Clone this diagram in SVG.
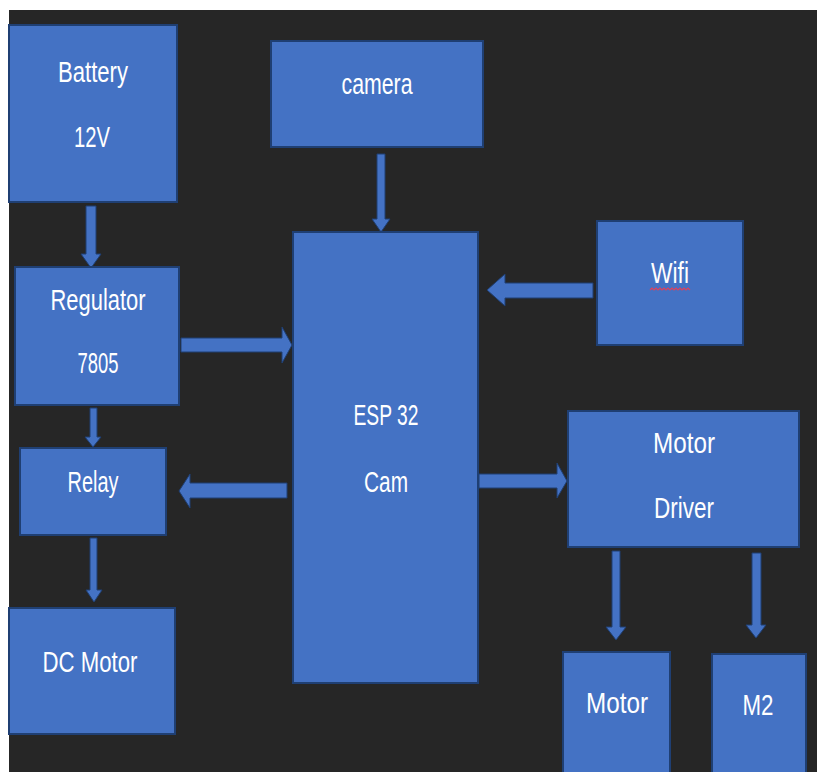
<svg xmlns="http://www.w3.org/2000/svg" width="817" height="772" viewBox="0 0 817 772">
<style>
.box{fill:#4472c4;stroke:#1f3f73;stroke-width:2}
.arr{fill:#4472c4;stroke:#1f3f73;stroke-width:1}
.t{fill:#ffffff;font-family:"Liberation Sans",Arial,sans-serif;font-size:29px;text-anchor:middle}
</style>
<rect x="0" y="0" width="817" height="772" fill="#ffffff"/>
<rect x="9" y="10" width="808" height="762" fill="#262626"/>
<g id="connectors">
<polygon class="arr" points="86,206 96,206 96,254 101,254 91,268 81,254 86,254"/>
<polygon class="arr" points="377,154 385,154 385,219 390,219 381,232 372,219 377,219"/>
<polygon class="arr" points="593,283 593,298 505,298 505,306 487,290 505,274 505,283"/>
<polygon class="arr" points="181,338 282,338 282,327 292,345 282,363 282,352 181,352"/>
<polygon class="arr" points="90,408 97,408 97,437 101,437 93,447 85,437 90,437"/>
<polygon class="arr" points="287,483 287,498 190,498 190,508 179,491 190,474 190,483"/>
<polygon class="arr" points="90,538 97,538 97,590 102,590 94,602 86,590 90,590"/>
<polygon class="arr" points="479,474 557,474 557,463 567,481 557,498 557,488 479,488"/>
<polygon class="arr" points="612,551 620,551 620,627 626,627 616,640 606,627 612,627"/>
<polygon class="arr" points="752,553 761,553 761,625 766,625 756,638 746,625 752,625"/>
</g>
<g id="battery">
<rect class="box" x="9" y="25" width="168" height="177"/>
<text class="t" x="93" y="82" textLength="70" lengthAdjust="spacingAndGlyphs">Battery</text>
<text class="t" x="92" y="147" textLength="36" lengthAdjust="spacingAndGlyphs">12V</text>
</g>
<g id="camera">
<rect class="box" x="271" y="41" width="212" height="106"/>
<text class="t" x="377" y="94" textLength="71" lengthAdjust="spacingAndGlyphs">camera</text>
</g>
<g id="esp32">
<rect class="box" x="293" y="232" width="185" height="451"/>
<text class="t" x="386" y="425" textLength="65" lengthAdjust="spacingAndGlyphs">ESP 32</text>
<text class="t" x="386" y="492" textLength="44" lengthAdjust="spacingAndGlyphs">Cam</text>
</g>
<g id="wifi">
<rect class="box" x="597" y="221" width="146" height="124"/>
<text class="t" x="670" y="283" textLength="38" lengthAdjust="spacingAndGlyphs">Wifi</text>
<path d="M650,290 l2,-2 l2,2 l2,-2 l2,2 l2,-2 l2,2 l2,-2 l2,2 l2,-2 l2,2 l2,-2 l2,2 l2,-2 l2,2 l2,-2 l2,2 l2,-2 l2,2 l2,-2 l2,2" fill="none" stroke="#e0405a" stroke-width="1.2"/>
</g>
<g id="regulator">
<rect class="box" x="15" y="267" width="164" height="138"/>
<text class="t" x="98" y="310" textLength="95" lengthAdjust="spacingAndGlyphs">Regulator</text>
<text class="t" x="98" y="373" textLength="41" lengthAdjust="spacingAndGlyphs">7805</text>
</g>
<g id="relay">
<rect class="box" x="20" y="448" width="146" height="87"/>
<text class="t" x="93" y="492" textLength="51" lengthAdjust="spacingAndGlyphs">Relay</text>
</g>
<g id="dcmotor">
<rect class="box" x="9" y="608" width="166" height="126"/>
<text class="t" x="90" y="672" textLength="95" lengthAdjust="spacingAndGlyphs">DC Motor</text>
</g>
<g id="motordriver">
<rect class="box" x="568" y="411" width="231" height="136"/>
<text class="t" x="684" y="453" textLength="62" lengthAdjust="spacingAndGlyphs">Motor</text>
<text class="t" x="684" y="518" textLength="60" lengthAdjust="spacingAndGlyphs">Driver</text>
</g>
<g id="motor">
<rect class="box" x="563" y="652" width="107" height="125"/>
<text class="t" x="617" y="713" textLength="62" lengthAdjust="spacingAndGlyphs">Motor</text>
</g>
<g id="m2">
<rect class="box" x="712" y="654" width="94" height="123"/>
<text class="t" x="758" y="715" textLength="31" lengthAdjust="spacingAndGlyphs">M2</text>
</g>
</svg>
